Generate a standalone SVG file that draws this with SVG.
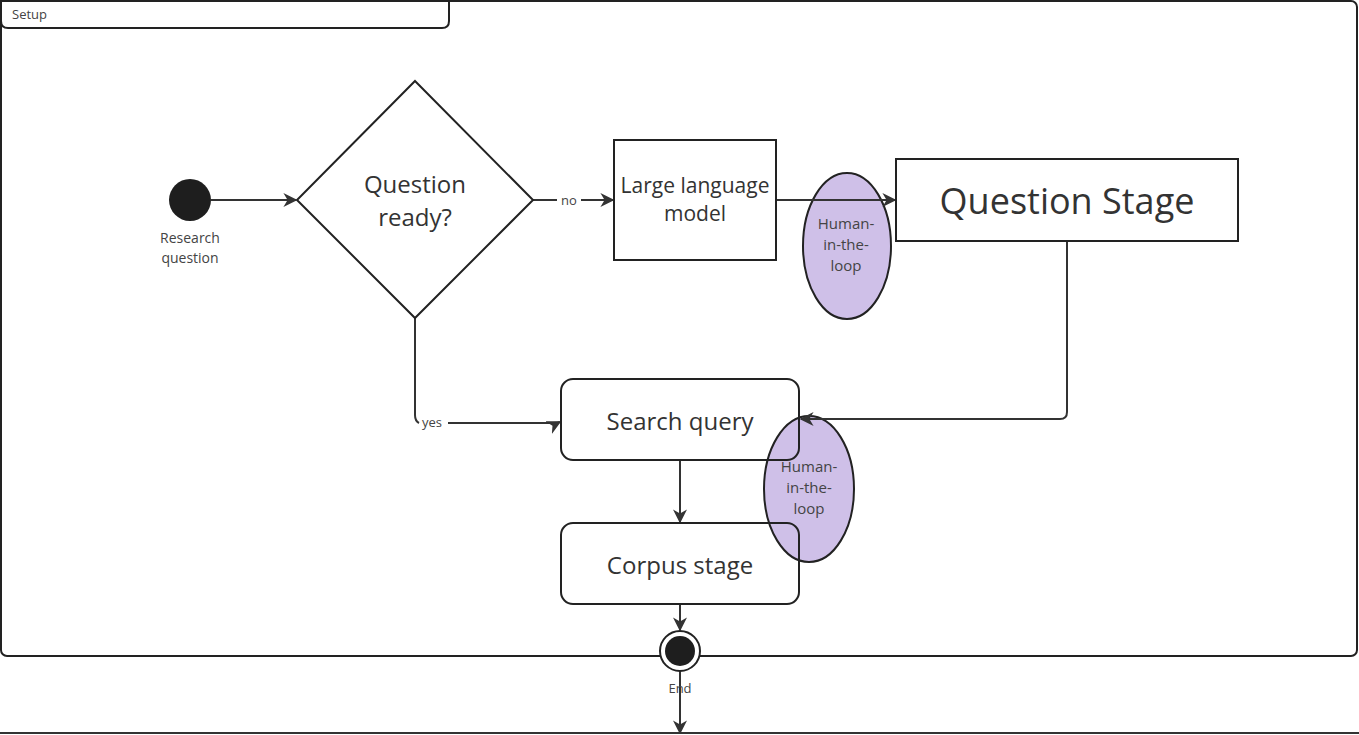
<svg xmlns="http://www.w3.org/2000/svg" width="1359" height="735" viewBox="0 0 1359 735">
<style>
text{font-family:"Open Sans","Noto Sans","Liberation Sans",sans-serif;fill:#333;}
.box{fill:none;stroke:#222;stroke-width:2;}
.conn{fill:none;stroke:#333;stroke-width:2;}
.hitl{fill:#cfc0e8;stroke:#222;stroke-width:2;}
.sm{font-size:14px;text-anchor:middle;fill:#444;}
.hl{font-size:15px;text-anchor:middle;fill:#444;}
.lbl{font-size:13px;text-anchor:middle;fill:#444;}
</style>
<defs>
<marker id="arr" viewBox="0 0 10 10" refX="9" refY="5" markerWidth="14" markerHeight="14" markerUnits="userSpaceOnUse" orient="auto">
<path d="M0,0 L10,5 L0,10 L3,5 Z" fill="#333"/>
</marker>
</defs>
<rect width="1359" height="735" fill="#fff"/>
<g id="frame">
<rect x="1" y="1" width="1356" height="655" rx="6" fill="none" stroke="#222" stroke-width="2"/>
<path d="M1,1 H449 V21 Q449,28 442,28 H8 Q1,28 1,21 Z" fill="#fff" stroke="#222" stroke-width="2"/>
<text x="12" y="19" style="font-size:13px;fill:#444;">Setup</text>
<line x1="0" y1="733" x2="1359" y2="733" stroke="#333" stroke-width="2"/>
</g>
<g id="hitl1">
<ellipse class="hitl" cx="847" cy="246" rx="44" ry="73"/>
<text class="hl" x="846" y="229">Human-</text>
<text class="hl" x="846" y="250">in-the-</text>
<text class="hl" x="846" y="271">loop</text>
</g>
<g id="hitl2">
<ellipse class="hitl" cx="809" cy="489" rx="45" ry="73"/>
<text class="hl" x="809" y="472">Human-</text>
<text class="hl" x="809" y="493">in-the-</text>
<text class="hl" x="809" y="514">loop</text>
</g>
<g id="connectors">
<line class="conn" x1="211" y1="200" x2="296" y2="200" marker-end="url(#arr)"/>
<line class="conn" x1="533" y1="200" x2="557" y2="200"/>
<line class="conn" x1="581" y1="200" x2="613" y2="200" marker-end="url(#arr)"/>
<line class="conn" x1="776" y1="200" x2="895" y2="200" marker-end="url(#arr)"/>
<path class="conn" d="M1067,241 V412 Q1067,419 1060,419 H801" marker-end="url(#arr)"/>
<path class="conn" d="M415,318 V415 Q415,421 419,423"/>
<path class="conn" d="M448,423 H553 Q558,423 560,422" marker-end="url(#arr)"/>
<line class="conn" x1="680" y1="460" x2="680" y2="522" marker-end="url(#arr)"/>
<line class="conn" x1="680" y1="604" x2="680" y2="630" marker-end="url(#arr)"/>
<line class="conn" x1="680" y1="671" x2="680" y2="733" marker-end="url(#arr)"/>
<text class="lbl" x="569" y="205">no</text>
<text class="lbl" x="432" y="427">yes</text>
</g>
<g id="start">
<circle cx="190" cy="200" r="21" fill="#1e1e1e"/>
<text class="sm" x="190" y="243">Research</text>
<text class="sm" x="190" y="263">question</text>
</g>
<g id="decision">
<polygon points="415,81 533,200 415,318 297,200" fill="none" stroke="#222" stroke-width="2"/>
<text x="415" y="193" style="font-size:24px;text-anchor:middle;">Question</text>
<text x="415" y="226" style="font-size:24px;text-anchor:middle;">ready?</text>
</g>
<g id="llm">
<rect class="box" x="614" y="140" width="162" height="120"/>
<text x="695" y="193" style="font-size:21px;text-anchor:middle;">Large language</text>
<text x="695" y="221" style="font-size:21px;text-anchor:middle;">model</text>
</g>
<g id="questionStage">
<rect class="box" x="896" y="159" width="342" height="82" fill="#fff"/>
<text x="1067" y="214" style="font-size:36px;text-anchor:middle;">Question Stage</text>
</g>
<g id="searchQuery">
<rect class="box" x="561" y="379" width="238" height="81" rx="12"/>
<text x="680" y="430" style="font-size:24px;text-anchor:middle;">Search query</text>
</g>
<g id="corpusStage">
<rect class="box" x="561" y="523" width="238" height="81" rx="12"/>
<text x="680" y="574" style="font-size:24px;text-anchor:middle;">Corpus stage</text>
</g>
<g id="end">
<circle cx="680" cy="651" r="20" fill="#fff" stroke="#222" stroke-width="2"/>
<circle cx="680" cy="651" r="15" fill="#1e1e1e"/>
<text class="lbl" x="680" y="693">End</text>
</g>
</svg>
